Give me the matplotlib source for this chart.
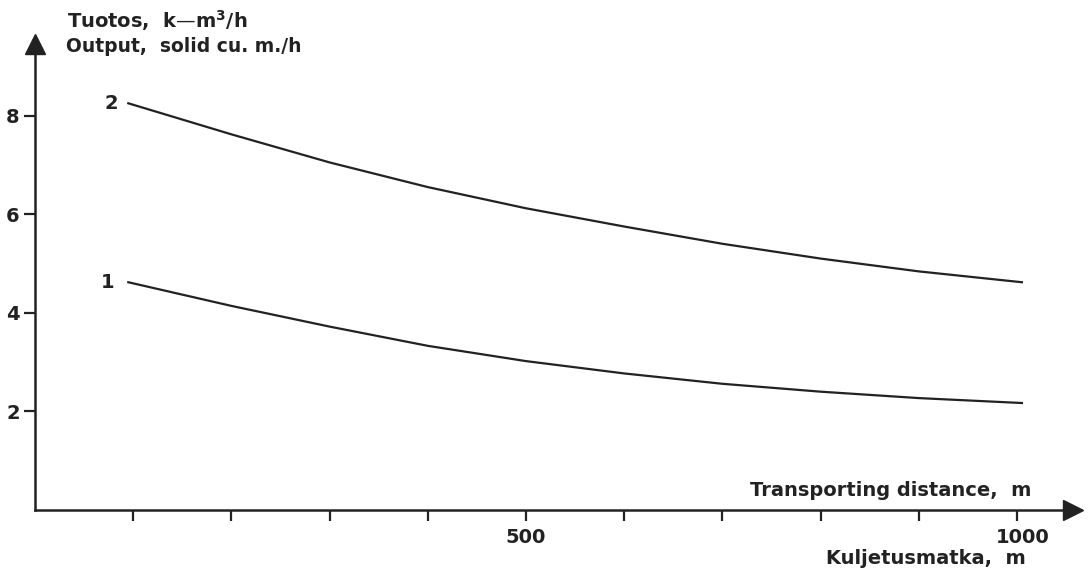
import matplotlib
matplotlib.use("Agg")
from matplotlib import pyplot as plt
from matplotlib.transforms import ScaledTranslation

# Transporting distance (m) and output (solid cu.m./h)
dist = [95, 200, 300, 400, 500, 600, 700, 800, 900, 1005]
output2 = [8.25, 7.62, 7.05, 6.55, 6.12, 5.75, 5.40, 5.10, 4.84, 4.62]
output1 = [4.62, 4.14, 3.72, 3.33, 3.02, 2.77, 2.56, 2.40, 2.27, 2.17]
curve_labels = ["2", "1"]

xticks = [100, 200, 300, 400, 500, 600, 700, 800, 900, 1000]
xticklabels = ["", "", "", "", "500", "", "", "", "", "1000"]
yticks = [2, 4, 6, 8]

ink = "#222222"
plt.rcParams["font.family"] = ["DejaVu Sans"]
plt.rcParams["font.weight"] = "bold"

W, H = 1092, 570
fig = plt.figure(figsize=(W / 100, H / 100), dpi=100)

# axes placed so that (0,0) sits at pixel (35, 510)
xmax, ymax = 1057, 9.45
px_x, px_y = 0.982, 49.3
ax = fig.add_axes([35 / W, 60 / H, xmax * px_x / W, ymax * px_y / H])
ax.set_xlim(0, xmax)
ax.set_ylim(0, ymax)

for s in ["top", "right"]:
    ax.spines[s].set_visible(False)
for s in ["left", "bottom"]:
    ax.spines[s].set_linewidth(1.8)
    ax.spines[s].set_color(ink)

# arrow heads at the ends of the axes
ax.plot(1, 0, ">", color=ink, markersize=14, transform=ax.get_yaxis_transform(), clip_on=False)
ax.plot(0, 1, "^", color=ink, markersize=14, transform=ax.get_xaxis_transform(), clip_on=False)

ax.set_xticks(xticks)
ax.set_xticklabels(xticklabels)
ax.set_yticks(yticks)
ax.tick_params(axis="both", direction="out", length=8, width=1.6, color=ink,
               labelsize=14, labelcolor=ink)
ax.tick_params(axis="x", pad=5)
ax.tick_params(axis="y", pad=3)

# the "1000" label sits a little right of its tick in the original
shift = ScaledTranslation(6 / 100, 0, fig.dpi_scale_trans)
for lab in ax.get_xticklabels():
    if lab.get_text() == "1000":
        lab.set_transform(lab.get_transform() + shift)

ax.plot(dist, output2, color=ink, lw=1.6)
ax.plot(dist, output1, color=ink, lw=1.6)
ax.text(dist[0] - 10, output2[0], curve_labels[0], ha="right", va="center",
        fontsize=14, color=ink)
ax.text(dist[0] - 14, output1[0], curve_labels[1], ha="right", va="center",
        fontsize=14, color=ink)

fs = 14
fig.text(67 / W, 1 - 21 / H, "Tuotos,  k\u2014m$^{\\mathbf{3}}$/h", fontsize=fs,
         color=ink, va="center", ha="left")
fig.text(66 / W, 1 - 46 / H, "Output,  solid cu. m./h", fontsize=13.5,
         color=ink, va="center", ha="left")
fig.text(1031 / W, 1 - 490 / H, "Transporting distance,  m", fontsize=fs,
         color=ink, va="center", ha="right")
fig.text(1026 / W, 1 - 558 / H, "Kuljetusmatka,  m", fontsize=fs,
         color=ink, va="center", ha="right")

fig.savefig("out.png", dpi=100)
